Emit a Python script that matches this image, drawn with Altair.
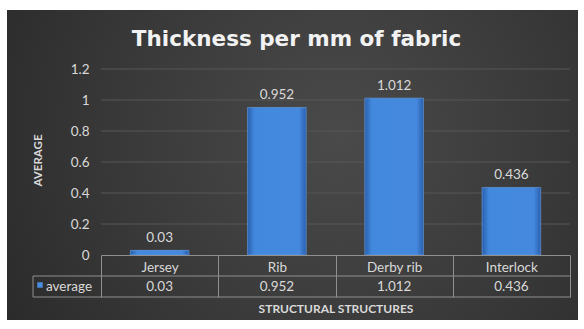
import altair as alt
import pandas as pd

categories = ["Jersey", "Rib", "Derby rib", "Interlock"]
values = [0.03, 0.952, 1.012, 0.436]
value_labels = ["0.03", "0.952", "1.012", "0.436"]
y_ticks = [0, 0.2, 0.4, 0.6, 0.8, 1, 1.2]
series_name = "average"
title_text = "Thickness per mm of fabric"
x_title = "STRUCTURAL STRUCTURES"
y_title = "AVERAGE"

df = pd.DataFrame({"structure": categories, "average": values, "label": value_labels})
grid_df = pd.DataFrame({"average": y_ticks[1:]})

FONT = "Lato"
TXT = "#d9d9d9"
LINE = "#8f8f8f"
FS = 13.5

xscale = alt.Scale(domain=categories, paddingInner=0, paddingOuter=0)
yscale = alt.Scale(domain=[0, 1.2], nice=False)

xenc = alt.X("structure:N", sort=categories, scale=xscale,
             axis=alt.Axis(title=x_title, labelAngle=0, labelFont=FONT, labelFontSize=FS,
                           labelColor=TXT, labelPadding=-37, domainColor=LINE, domainWidth=1,
                           tickBand="extent", tickSize=42, tickColor=LINE, tickWidth=1,
                           titleFont=FONT, titleFontWeight="bold", titleFontSize=12,
                           titleColor=TXT, titleY=53, titleBaseline="middle",
                           grid=False, zindex=2))
yaxis = alt.Axis(title=y_title, values=y_ticks, labelOverlap=False, labelSeparation=0,
                 tickCount=7,
                 labelExpr="format(datum.value, '.1~f')", labelFont=FONT, labelFontSize=FS,
                 labelColor=TXT, labelPadding=12, domain=False, ticks=False, grid=False,
                 titleFont=FONT, titleFontWeight="bold", titleFontSize=11.5,
                 titleColor=TXT, titleX=-63, titleY=91, titleAngle=-90,
                 titleAlign="center", titleBaseline="middle", zindex=2)

one = alt.Data(values=[{"k": 1}])
background = alt.Chart(one).mark_rect(
    fill=alt.Gradient(gradient="radial",
                      stops=[alt.GradientStop(color="#4a4a4a", offset=0),
                             alt.GradientStop(color="#383838", offset=0.5),
                             alt.GradientStop(color="#242424", offset=1)],
                      x1=0.58, y1=0.45, x2=0.58, y2=0.45, r1=0, r2=0.8)
).encode(x=alt.value(-94), x2=alt.value(477), y=alt.value(-59), y2=alt.value(251))

grid = alt.Chart(grid_df).mark_rule(color="#575757", strokeWidth=1).encode(
    y=alt.Y("average:Q", scale=yscale, axis=yaxis), x=alt.value(0), x2=alt.value(469))

bars = alt.Chart(df).mark_bar(
    width=alt.RelativeBandSize(0.5),
    fill=alt.Gradient(gradient="linear",
                      stops=[alt.GradientStop(color="#2a5fae", offset=0),
                             alt.GradientStop(color="#4289de", offset=0.12),
                             alt.GradientStop(color="#4589de", offset=0.88),
                             alt.GradientStop(color="#2a5fae", offset=1)],
                      x1=0, x2=1, y1=0, y2=0),
    stroke="#6aa3ea", strokeWidth=0.6
).encode(x=xenc, y=alt.Y("average:Q", scale=yscale, axis=yaxis))

top_labels = alt.Chart(df).mark_text(dy=-12, font=FONT, fontSize=FS, color=TXT).encode(
    x=alt.X("structure:N", sort=categories, scale=xscale), y=alt.Y("average:Q", scale=yscale),
    text="label:N")

row_values = alt.Chart(df).mark_text(font=FONT, fontSize=FS, color=TXT, baseline="middle").encode(
    x=alt.X("structure:N", sort=categories, scale=xscale), y=alt.value(218), text="label:N")

hline1 = alt.Chart(one).mark_rule(color=LINE, strokeWidth=1).encode(
    x=alt.value(-68), x2=alt.value(469.5), y=alt.value(207))
hline2 = alt.Chart(one).mark_rule(color=LINE, strokeWidth=1).encode(
    x=alt.value(-68), x2=alt.value(469.5), y=alt.value(228))
vline = alt.Chart(one).mark_rule(color=LINE, strokeWidth=1).encode(
    x=alt.value(-68), y=alt.value(207), y2=alt.value(228))

legend_df = pd.DataFrame({"series": [series_name]})
legend_sym = alt.Chart(legend_df).mark_point(shape="square", filled=True, size=30,
                                             color="#4a8de0", opacity=1).encode(
    x=alt.value(-61), y=alt.value(216))
legend_txt = alt.Chart(legend_df).mark_text(font=FONT, fontSize=FS, color=TXT,
                                            align="left", baseline="middle").encode(
    x=alt.value(-55), y=alt.value(218), text="series:N")

chart = alt.layer(background, grid, bars, top_labels, row_values, hline1, hline2, vline,
                  legend_sym, legend_txt).properties(
    width=469, height=186,
    title=alt.TitleParams(title_text, font="DejaVu Sans", fontWeight="bold", fontSize=21.5,
                          color="#f2f2f2", anchor="middle", dx=-39, dy=52, offset=12),
    autosize=alt.AutoSizeParams(type="none"),
    padding={"left": 101, "top": 69, "right": 14, "bottom": 74},
    background="white",
).configure_view(stroke=None).configure_axisY(labelOverlap=False)

chart.save("out.html", embed_options={"renderer": "svg", "actions": False})
